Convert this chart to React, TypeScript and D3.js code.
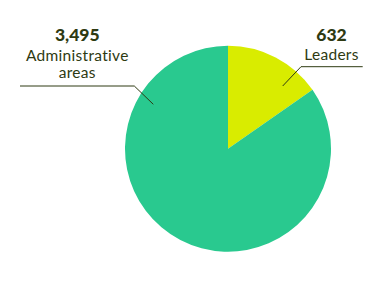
import React from "react";
import * as d3 from "d3";

const categories = ["Leaders", "Administrative areas"];
const values = [632, 3495];
const valueLabels = ["632", "3,495"];
const colors = ["#d9ec00", "#29c98f"];

export default function App() {
  const W = 389, H = 282;
  const cx = 228, cy = 148.7, r = 103;
  const pie = d3.pie<number>().sort(null).value((d) => d);
  const arcs = pie(values);
  const arc = d3.arc<d3.PieArcDatum<number>>().innerRadius(0).outerRadius(r);
  const textColor = "#2e3a12";
  const font = "Lato, 'Open Sans', sans-serif";
  return (
    <svg width={W} height={H} style={{ position: "absolute", left: 0, top: 0 }}>
      <g transform={`translate(${cx},${cy})`}>
        {arcs.map((a, i) => (
          <path key={i} d={arc(a) || ""} fill={colors[i]} />
        ))}
      </g>
      {/* Leaders label */}
      <polyline points="282.7,86 301,66.7 362.7,66.7" fill="none" stroke={textColor} strokeWidth={1} />
      <text x={331.5} y={41} textAnchor="middle" fontFamily={font} fontWeight={900} fontSize={17.5} fill={textColor}>
        {valueLabels[0]}
      </text>
      <text x={331.5} y={60} textAnchor="middle" fontFamily={font} fontSize={15.5} letterSpacing={0.3} fill={textColor}>
        {categories[0]}
      </text>
      {/* Administrative areas label */}
      <polyline points="153.3,104.3 134.3,86 20,86" fill="none" stroke={textColor} strokeWidth={1} />
      <text x={77.3} y={41} textAnchor="middle" fontFamily={font} fontWeight={900} fontSize={17.5} fill={textColor}>
        {valueLabels[1]}
      </text>
      <text x={77.3} y={61} textAnchor="middle" fontFamily={font} fontSize={15.5} letterSpacing={0.3} fill={textColor}>
        Administrative
      </text>
      <text x={77.3} y={78} textAnchor="middle" fontFamily={font} fontSize={15.5} letterSpacing={0.3} fill={textColor}>
        areas
      </text>
    </svg>
  );
}
